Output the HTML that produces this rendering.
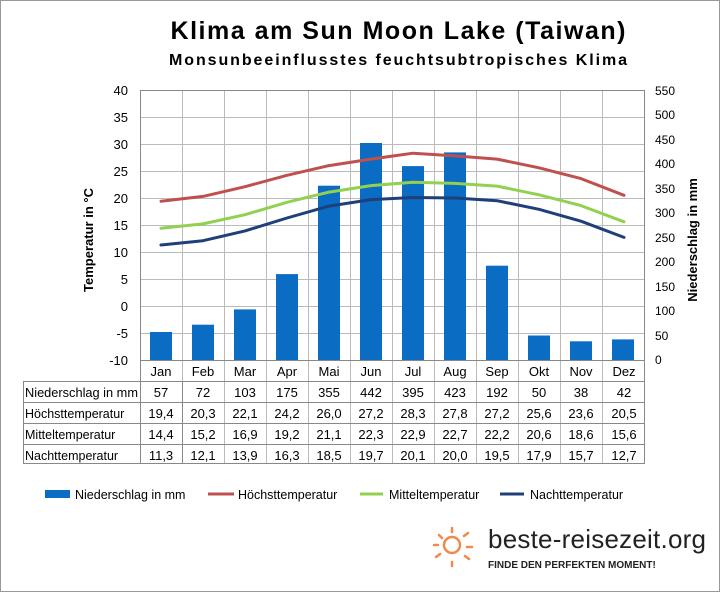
<!DOCTYPE html><html><head><meta charset="utf-8"><style>body{margin:0;background:#fff}svg{display:block}text{font-family:"Liberation Sans",Arial,sans-serif}</style></head><body>
<svg width="720" height="592" viewBox="0 0 720 592">
<rect x="0.5" y="0.5" width="719" height="591" fill="#fff" stroke="#999"/>
<text x="398" y="39" font-size="25" font-weight="bold" text-anchor="middle" textLength="455" lengthAdjust="spacing">Klima am Sun Moon Lake (Taiwan)</text>
<text x="398" y="65" font-size="16" font-weight="bold" text-anchor="middle" textLength="458" lengthAdjust="spacing">Monsunbeeinflusstes  feuchtsubtropisches  Klima</text>
<g stroke="#bbb" stroke-width="1">
<line x1="140" y1="90.5" x2="645" y2="90.5"/><line x1="140" y1="117.5" x2="645" y2="117.5"/><line x1="140" y1="144.5" x2="645" y2="144.5"/><line x1="140" y1="171.5" x2="645" y2="171.5"/><line x1="140" y1="198.5" x2="645" y2="198.5"/><line x1="140" y1="225.5" x2="645" y2="225.5"/><line x1="140" y1="252.5" x2="645" y2="252.5"/><line x1="140" y1="279.5" x2="645" y2="279.5"/><line x1="140" y1="306.5" x2="645" y2="306.5"/><line x1="140" y1="333.5" x2="645" y2="333.5"/>
<line x1="182.5" y1="90" x2="182.5" y2="381"/><line x1="224.5" y1="90" x2="224.5" y2="464"/><line x1="266.5" y1="90" x2="266.5" y2="464"/><line x1="308.5" y1="90" x2="308.5" y2="464"/><line x1="350.5" y1="90" x2="350.5" y2="464"/><line x1="392.5" y1="90" x2="392.5" y2="464"/><line x1="434.5" y1="90" x2="434.5" y2="464"/><line x1="476.5" y1="90" x2="476.5" y2="464"/><line x1="518.5" y1="90" x2="518.5" y2="464"/><line x1="560.5" y1="90" x2="560.5" y2="464"/><line x1="602.5" y1="90" x2="602.5" y2="464"/>
</g>
<g stroke="#888" fill="none"><rect x="140.5" y="90.5" width="504" height="373"/><line x1="182.5" y1="381" x2="182.5" y2="464"/><line x1="23" y1="381.5" x2="645" y2="381.5"/><line x1="23" y1="402.5" x2="645" y2="402.5"/><line x1="23" y1="423.5" x2="645" y2="423.5"/><line x1="23" y1="444.5" x2="645" y2="444.5"/><rect x="23.5" y="381.5" width="621" height="82"/><line x1="140" y1="360.5" x2="645" y2="360.5"/></g>
<g fill="#0a6cc2">
<rect x="150" y="332" width="22" height="28"/><rect x="192" y="324.7" width="22" height="35.3"/><rect x="234" y="309.4" width="22" height="50.6"/><rect x="276" y="274.1" width="22" height="85.9"/><rect x="318" y="185.7" width="22" height="174.3"/><rect x="360" y="143" width="22" height="217"/><rect x="402" y="166.1" width="22" height="193.9"/><rect x="444" y="152.4" width="22" height="207.6"/><rect x="486" y="265.7" width="22" height="94.3"/><rect x="528" y="335.5" width="22" height="24.5"/><rect x="570" y="341.3" width="22" height="18.7"/><rect x="612" y="339.4" width="22" height="20.6"/>
</g>
<g fill="none" stroke-width="3" stroke-linejoin="round" stroke-linecap="round">
<polyline stroke="#c0504d" points="161,201.2 203,196.4 245,186.7 287,175.3 329,165.6 371,159.1 413,153.2 455,155.9 497,159.1 539,167.8 581,178.6 624,195.3"/>
<polyline stroke="#92d050" points="161,228.2 203,223.9 245,214.7 287,202.3 329,192.1 371,185.6 413,182.3 455,183.4 497,186.1 539,194.8 581,205.6 624,221.8"/>
<polyline stroke="#1f3f7a" points="161,245 203,240.7 245,230.9 287,218 329,206.1 371,199.6 413,197.5 455,198 497,200.7 539,209.3 581,221.2 624,237.4"/>
</g>
<g font-size="13" text-anchor="end">
<text x="128" y="95">40</text><text x="128" y="122">35</text><text x="128" y="149">30</text><text x="128" y="176">25</text><text x="128" y="203">20</text><text x="128" y="230">15</text><text x="128" y="257">10</text><text x="128" y="284">5</text><text x="128" y="311">0</text><text x="128" y="338">-5</text><text x="128" y="365">-10</text>
</g>
<g font-size="12">
<text x="655" y="95">550</text><text x="655" y="119">500</text><text x="655" y="144">450</text><text x="655" y="168">400</text><text x="655" y="193">350</text><text x="655" y="217">300</text><text x="655" y="242">250</text><text x="655" y="266">200</text><text x="655" y="291">150</text><text x="655" y="315">100</text><text x="655" y="340">50</text><text x="655" y="364">0</text>
</g>
<text transform="translate(93,240) rotate(-90)" font-size="13" font-weight="bold" text-anchor="middle">Temperatur in °C</text>
<text transform="translate(697,240) rotate(-90)" font-size="13" font-weight="bold" text-anchor="middle">Niederschlag in mm</text>
<g font-size="13" text-anchor="middle">
<text x="161" y="376">Jan</text><text x="203" y="376">Feb</text><text x="245" y="376">Mar</text><text x="287" y="376">Apr</text><text x="329" y="376">Mai</text><text x="371" y="376">Jun</text><text x="413" y="376">Jul</text><text x="455" y="376">Aug</text><text x="497" y="376">Sep</text><text x="539" y="376">Okt</text><text x="581" y="376">Nov</text><text x="624" y="376">Dez</text>
</g>
<g font-size="12.5">
<text x="25" y="397" textLength="113" lengthAdjust="spacingAndGlyphs">Niederschlag in mm</text><text x="25" y="418">Höchsttemperatur</text><text x="25" y="439">Mitteltemperatur</text><text x="25" y="460">Nachttemperatur</text>
</g>
<g font-size="13" text-anchor="middle">
<text x="161" y="397">57</text><text x="203" y="397">72</text><text x="245" y="397">103</text><text x="287" y="397">175</text><text x="329" y="397">355</text><text x="371" y="397">442</text><text x="413" y="397">395</text><text x="455" y="397">423</text><text x="497" y="397">192</text><text x="539" y="397">50</text><text x="581" y="397">38</text><text x="624" y="397">42</text>
<text x="161" y="418">19,4</text><text x="203" y="418">20,3</text><text x="245" y="418">22,1</text><text x="287" y="418">24,2</text><text x="329" y="418">26,0</text><text x="371" y="418">27,2</text><text x="413" y="418">28,3</text><text x="455" y="418">27,8</text><text x="497" y="418">27,2</text><text x="539" y="418">25,6</text><text x="581" y="418">23,6</text><text x="624" y="418">20,5</text>
<text x="161" y="439">14,4</text><text x="203" y="439">15,2</text><text x="245" y="439">16,9</text><text x="287" y="439">19,2</text><text x="329" y="439">21,1</text><text x="371" y="439">22,3</text><text x="413" y="439">22,9</text><text x="455" y="439">22,7</text><text x="497" y="439">22,2</text><text x="539" y="439">20,6</text><text x="581" y="439">18,6</text><text x="624" y="439">15,6</text>
<text x="161" y="460">11,3</text><text x="203" y="460">12,1</text><text x="245" y="460">13,9</text><text x="287" y="460">16,3</text><text x="329" y="460">18,5</text><text x="371" y="460">19,7</text><text x="413" y="460">20,1</text><text x="455" y="460">20,0</text><text x="497" y="460">19,5</text><text x="539" y="460">17,9</text><text x="581" y="460">15,7</text><text x="624" y="460">12,7</text>
</g>
<rect x="45" y="490" width="25" height="8" fill="#0a6cc2"/>
<line x1="208" y1="494" x2="234" y2="494" stroke="#c0504d" stroke-width="3"/>
<line x1="360" y1="494" x2="383" y2="494" stroke="#92d050" stroke-width="3"/>
<line x1="500" y1="494" x2="524" y2="494" stroke="#1f3f7a" stroke-width="3"/>
<g font-size="12.5"><text x="75" y="499">Niederschlag in mm</text><text x="238" y="499">Höchsttemperatur</text><text x="389" y="499">Mitteltemperatur</text><text x="530" y="499">Nachttemperatur</text></g>
<g stroke="#f08a4b" stroke-width="2.5" fill="none" stroke-linecap="round">
<circle cx="452" cy="545" r="8"/>
<line x1="452" y1="528" x2="452" y2="532"/><line x1="439" y1="535" x2="442" y2="538"/><line x1="434" y1="545" x2="438" y2="545"/><line x1="436" y1="557" x2="440" y2="554"/><line x1="452" y1="562" x2="452" y2="566"/><line x1="465" y1="556" x2="469" y2="559"/><line x1="467" y1="547" x2="472" y2="547"/><line x1="464" y1="536" x2="468" y2="533"/>
</g>
<text x="488" y="548" font-size="26" fill="#222" textLength="218">beste-reisezeit.org</text>
<text x="488" y="568" font-size="10" font-weight="bold" fill="#222">FINDE DEN PERFEKTEN MOMENT!</text>
</svg></body></html>
